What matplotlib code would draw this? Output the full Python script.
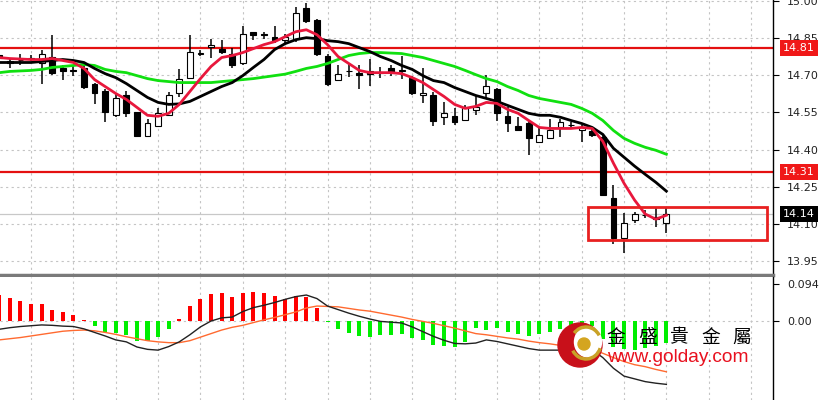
import numpy as np
import matplotlib
matplotlib.use('Agg')
import matplotlib.pyplot as plt
from matplotlib.patches import Rectangle, Circle, Ellipse, Arc

# ── Price candles (one per bar, oldest first) ────────────────
opens = [14.780, 14.755, 14.760, 14.770, 14.747, 14.775, 14.727, 14.720, 14.730, 14.666,
         14.638, 14.538, 14.618, 14.550, 14.453, 14.493, 14.538, 14.626, 14.690, 14.787,
         14.815, 14.807, 14.787, 14.747, 14.875, 14.863, 14.855, 14.840, 14.847, 14.972,
         14.924, 14.779, 14.682, 14.715, 14.710, 14.715, 14.710, 14.727, 14.715, 14.690,
         14.618, 14.618, 14.530, 14.534, 14.520, 14.560, 14.626, 14.646, 14.534, 14.493,
         14.505, 14.430, 14.445, 14.490, 14.497, 14.478, 14.473, 14.450, 14.204, 14.043,
         14.115, 14.136, 14.128, 14.103]
highs = [14.790, 14.770, 14.785, 14.780, 14.800, 14.860, 14.740, 14.740, 14.743, 14.668,
         14.646, 14.626, 14.638, 14.550, 14.525, 14.566, 14.630, 14.726, 14.860, 14.803,
         14.847, 14.843, 14.811, 14.900, 14.875, 14.875, 14.900, 14.867, 14.976, 14.990,
         14.928, 14.787, 14.739, 14.747, 14.739, 14.767, 14.731, 14.739, 14.779, 14.698,
         14.727, 14.630, 14.590, 14.566, 14.578, 14.618, 14.700, 14.650, 14.570, 14.530,
         14.520, 14.485, 14.525, 14.525, 14.510, 14.497, 14.485, 14.457, 14.256, 14.144,
         14.148, 14.155, 14.163, 14.163]
lows = [14.760, 14.730, 14.740, 14.755, 14.665, 14.700, 14.680, 14.695, 14.646, 14.585,
        14.510, 14.530, 14.530, 14.453, 14.450, 14.493, 14.538, 14.610, 14.686, 14.779,
        14.770, 14.787, 14.727, 14.739, 14.840, 14.847, 14.830, 14.827, 14.835, 14.910,
        14.779, 14.658, 14.678, 14.694, 14.646, 14.658, 14.690, 14.698, 14.686, 14.618,
        14.586, 14.493, 14.497, 14.497, 14.517, 14.538, 14.606, 14.517, 14.469, 14.477,
        14.377, 14.425, 14.445, 14.450, 14.485, 14.430, 14.450, 14.216, 14.019, 13.983,
        14.103, 14.123, 14.087, 14.063]
closes = [14.770, 14.750, 14.762, 14.765, 14.787, 14.707, 14.715, 14.718, 14.654, 14.626,
          14.550, 14.606, 14.546, 14.453, 14.505, 14.546, 14.618, 14.686, 14.795, 14.789,
          14.820, 14.795, 14.739, 14.867, 14.860, 14.862, 14.843, 14.855, 14.952, 14.920,
          14.787, 14.666, 14.706, 14.717, 14.700, 14.703, 14.712, 14.711, 14.720, 14.626,
          14.626, 14.517, 14.546, 14.510, 14.566, 14.570, 14.658, 14.546, 14.505, 14.477,
          14.445, 14.457, 14.480, 14.510, 14.499, 14.490, 14.457, 14.216, 14.043, 14.103,
          14.140, 14.134, 14.120, 14.140]

# ── Moving averages as drawn on the chart ────────────────────
ma_fast = [14.771, 14.767, 14.765, 14.763, 14.763, 14.767, 14.759, 14.751, 14.727, 14.682,
           14.654, 14.626, 14.602, 14.570, 14.538, 14.534, 14.546, 14.582, 14.634, 14.686,
           14.735, 14.771, 14.779, 14.791, 14.807, 14.823, 14.835, 14.855, 14.875, 14.883,
           14.863, 14.823, 14.775, 14.747, 14.719, 14.710, 14.710, 14.710, 14.706, 14.690,
           14.670, 14.642, 14.614, 14.582, 14.566, 14.574, 14.590, 14.586, 14.562, 14.546,
           14.517, 14.489, 14.485, 14.485, 14.485, 14.489, 14.485, 14.433, 14.345, 14.264,
           14.196, 14.140, 14.119, 14.135]
ma_mid = [14.751, 14.751, 14.751, 14.751, 14.755, 14.759, 14.763, 14.759, 14.751, 14.727,
          14.706, 14.690, 14.666, 14.638, 14.610, 14.590, 14.582, 14.584, 14.594, 14.614,
          14.634, 14.654, 14.670, 14.698, 14.731, 14.763, 14.803, 14.827, 14.843, 14.851,
          14.847, 14.839, 14.835, 14.827, 14.811, 14.795, 14.775, 14.759, 14.739, 14.723,
          14.698, 14.678, 14.670, 14.650, 14.634, 14.618, 14.606, 14.594, 14.578, 14.562,
          14.546, 14.538, 14.538, 14.530, 14.517, 14.505, 14.489, 14.461, 14.405, 14.369,
          14.333, 14.300, 14.268, 14.232]
ma_slow = [14.710, 14.715, 14.717, 14.719, 14.723, 14.731, 14.735, 14.739, 14.743, 14.739,
           14.723, 14.715, 14.710, 14.698, 14.686, 14.678, 14.674, 14.670, 14.670, 14.670,
           14.670, 14.674, 14.678, 14.682, 14.686, 14.692, 14.698, 14.704, 14.715, 14.727,
           14.735, 14.747, 14.763, 14.779, 14.787, 14.791, 14.791, 14.789, 14.787, 14.779,
           14.771, 14.759, 14.747, 14.735, 14.719, 14.702, 14.686, 14.674, 14.654, 14.638,
           14.618, 14.606, 14.598, 14.590, 14.582, 14.566, 14.546, 14.517, 14.477, 14.445,
           14.425, 14.409, 14.397, 14.381]

# ── MACD panel ───────────────────────────────────────────────
macd_hist = [0.066, 0.058, 0.052, 0.043, 0.043, 0.028, 0.022, 0.015, 0.003, -0.012,
             -0.027, -0.030, -0.036, -0.051, -0.051, -0.041, -0.021, 0.004, 0.038, 0.055,
             0.069, 0.072, 0.060, 0.072, 0.073, 0.070, 0.064, 0.055, 0.064, 0.062,
             0.032, -0.003, -0.021, -0.031, -0.038, -0.040, -0.036, -0.036, -0.033, -0.044,
             -0.048, -0.061, -0.064, -0.065, -0.053, -0.019, -0.023, -0.019, -0.027, -0.033,
             -0.038, -0.033, -0.029, -0.020, -0.012, -0.011, -0.013, -0.045, -0.065, -0.072,
             -0.074, -0.068, -0.064, -0.057]
macd_line = [-0.021, -0.017, -0.014, -0.012, -0.010, -0.011, -0.013, -0.014, -0.020, -0.029,
             -0.038, -0.048, -0.053, -0.066, -0.072, -0.074, -0.065, -0.053, -0.035, -0.015,
             0.000, 0.008, 0.010, 0.024, 0.034, 0.040, 0.047, 0.055, 0.062, 0.066,
             0.057, 0.038, 0.029, 0.020, 0.012, 0.005, -0.001, -0.003, -0.005, -0.015,
             -0.027, -0.039, -0.049, -0.057, -0.058, -0.056, -0.048, -0.052, -0.058, -0.064,
             -0.070, -0.074, -0.074, -0.074, -0.073, -0.072, -0.073, -0.093, -0.120, -0.140,
             -0.147, -0.154, -0.158, -0.161]
macd_signal = [-0.048, -0.045, -0.042, -0.038, -0.034, -0.030, -0.026, -0.024, -0.023, -0.025,
               -0.029, -0.034, -0.040, -0.045, -0.050, -0.053, -0.055, -0.055, -0.050, -0.041,
               -0.032, -0.023, -0.016, -0.011, -0.004, 0.003, 0.009, 0.016, 0.023, 0.033,
               0.038, 0.037, 0.036, 0.032, 0.028, 0.025, 0.020, 0.015, 0.010, 0.004,
               -0.001, -0.006, -0.012, -0.018, -0.025, -0.032, -0.035, -0.039, -0.043, -0.046,
               -0.051, -0.055, -0.058, -0.062, -0.065, -0.068, -0.072, -0.082, -0.093, -0.103,
               -0.111, -0.116, -0.123, -0.129]

price_ticks = [15.00, 14.85, 14.70, 14.55, 14.40, 14.25, 14.10, 13.95]
macd_ticks = [0.094, 0.00]
level_lines = [14.81, 14.31]
last_price = 14.14
box_lo, box_hi = 14.035, 14.168
box_from, box_to = 55.6, 72.5      # in bar units

n = len(closes)
idx = np.arange(n)
o = np.array(opens); c = np.array(closes)
h = np.array(highs); l = np.array(lows)

GRID = dict(color='#c4c4c4', linestyle=(0, (2, 3)), linewidth=0.8)
XL = (0.07, 73.07)

fig = plt.figure(figsize=(8.24, 4.0), dpi=100)
fig.patch.set_facecolor('white')
W = 773 / 824
ax_p = fig.add_axes([0, 125 / 400, W, 275 / 400])
ax_m = fig.add_axes([0, 0, W, 123 / 400])

# ── price panel ──────────────────────────────────────────────
ax_p.set_xlim(*XL)
ax_p.set_ylim(13.894, 15.003)
ax_p.set_xticks(np.arange(3, 73, 4))
ax_p.set_yticks(price_ticks)
ax_p.set_yticklabels([f'{t:.2f}' for t in price_ticks])
ax_p.grid(True, **GRID)
ax_p.set_axisbelow(True)

for lv in level_lines:
    ax_p.axhline(lv, color='#e41010', lw=1.6, zorder=2)
ax_p.axhline(last_price, color='#c8c8c8', lw=0.9, zorder=1)

# wicks
ax_p.vlines(idx, l, h, color='black', lw=1.1, zorder=3)
# bodies
up = c >= o
body_lo = np.minimum(o, c)
body_h = np.maximum(np.abs(c - o), 0.002)
ax_p.bar(idx, body_h, bottom=body_lo, width=0.55,
         color=np.where(up, 'white', 'black'), edgecolor='black', lw=0.8, zorder=4)

ax_p.plot(idx, ma_slow, color='#10e010', lw=2.0, zorder=5)
ax_p.plot(idx, ma_mid, color='black', lw=2.0, zorder=5)
ax_p.plot(idx, ma_fast, color='#e8173c', lw=2.0, zorder=6)

ax_p.add_patch(Rectangle((box_from, box_lo), box_to - box_from, box_hi - box_lo,
                         fill=False, edgecolor='#e82020', lw=2.0, zorder=7))

# ── MACD panel ───────────────────────────────────────────────
ax_m.set_xlim(*XL)
ax_m.set_ylim(-0.2007, 0.1118)
ax_m.set_xticks(np.arange(3, 73, 4))
ax_m.set_yticks(macd_ticks)
ax_m.set_yticklabels(['0.094', '0.00'])
ax_m.grid(True, axis='x', **GRID)
ax_m.axhline(0, zorder=0, **GRID)

hist = np.array(macd_hist)
ax_m.bar(idx, hist, width=0.38, color=np.where(hist >= 0, '#ff0000', '#00ee00'), zorder=2)
ax_m.plot(idx, macd_signal, color='#ff6a30', lw=1.0, zorder=3)
ax_m.plot(idx, macd_line, color='#222222', lw=1.0, zorder=4)

for ax in (ax_p, ax_m):
    for s in ('left', 'top', 'bottom'):
        ax.spines[s].set_visible(False)
    ax.spines['right'].set_color('black')
    ax.spines['right'].set_linewidth(1.0)
    ax.yaxis.tick_right()
    ax.tick_params(axis='y', direction='out', length=4, width=0.8, pad=6,
                   labelsize=8, labelcolor='#222222')
    ax.tick_params(axis='x', length=0, labelbottom=False)
ax_p.spines['bottom'].set_visible(True)
ax_p.spines['bottom'].set_color('#7a7a7a')
ax_p.spines['bottom'].set_linewidth(2.5)

# coloured price tags on the scale
tag_tr = ax_p.get_yaxis_transform()
for lv in level_lines:
    ax_p.text(1.0 + 10 / 773, lv, f'{lv:.2f}', transform=tag_tr, ha='left', va='center',
              fontsize=8, color='white', clip_on=False, zorder=10,
              bbox=dict(boxstyle='square,pad=0.3', fc='#f01818', ec='none'))
ax_p.text(1.0 + 10 / 773, last_price, f'{last_price:.2f}', transform=tag_tr, ha='left',
          va='center', fontsize=8, color='white', clip_on=False, zorder=10,
          bbox=dict(boxstyle='square,pad=0.3', fc='black', ec='none'))

# ── logo overlay ─────────────────────────────────────────────
ax_o = fig.add_axes([0, 0, 1, 1], zorder=10)
ax_o.set_xlim(0, 824); ax_o.set_ylim(400, 0)
ax_o.axis('off')
ax_o.patch.set_alpha(0)
ax_o.add_patch(Circle((580, 345), 22, color='#c8101a'))
ax_o.add_patch(Ellipse((588, 342), 27, 30, color='white'))
ax_o.add_patch(Arc((586, 343), 30, 32, theta1=20, theta2=150, color='#c9a227', lw=2.5))
ax_o.add_patch(Arc((586, 343), 30, 32, theta1=220, theta2=330, color='#c9a227', lw=2.5))
ax_o.add_patch(Circle((584, 344), 6, color='#d4a520'))

for i, ch in enumerate('金盛貴金屬'):
    ax_o.text(616 + i * 31.5, 337, ch, ha='center', va='center', fontsize=13.5,
              family=['Noto Sans CJK TC', 'DejaVu Sans'], color='black')
ax_o.text(607, 357, 'www.golday.com', ha='left', va='center', fontsize=13.8,
          family='Liberation Sans', color='#e8101e')

fig.savefig('out.png', dpi=100)
